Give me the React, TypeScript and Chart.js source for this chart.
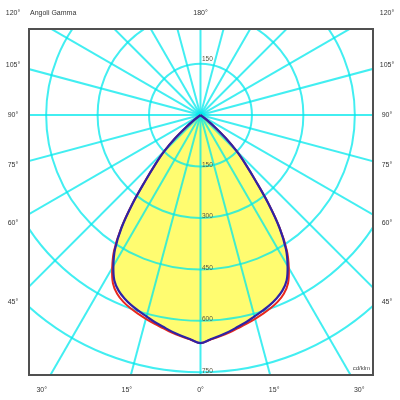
import React, { useEffect, useRef } from "react";
import { Chart, registerables } from "chart.js";

Chart.register(...registerables);

// Gamma angles (degrees from nadir) and luminous intensity (cd/klm)
const gammaAngles = [0, 2.5, 5, 7.5, 10, 12.5, 15, 17.5, 20, 22.5, 25, 27.5, 30, 32.5, 35, 37.5, 40, 42.5, 45, 47.5, 50, 52.5, 55];
const intensityC90 = [665, 655, 646, 637, 627, 618, 608, 599, 590, 579, 565, 544, 508, 464, 402, 325, 250, 195, 150, 102, 55, 22, 0];
const intensityC0 = [665, 656, 648, 640, 631, 623, 615, 607, 599, 589, 575, 553, 515, 469, 404, 326, 250, 195, 150, 102, 55, 22, 0];

// Grid
const circleValues = [150, 300, 450, 600, 750];
const rayAngles = [0, 15, 30, 45, 60, 75, 90, 105, 120, 135, 150, 165, 180, 195, 210, 225, 240, 255, 270, 285, 300, 315, 330, 345];
const sideLabelAngles = [15, 30, 45, 60, 75, 90, 105, 120];
const titleText = "Angoli Gamma";
const unitText = "cd/klm";

const FONT = "'Liberation Sans', Arial, Helvetica, sans-serif";
const BLUE = "#2e23a6";
const RED = "#e8281e";
const FILL = "rgb(255,252,112)";
const GRID = "rgba(0,232,236,0.74)";

const rad = (d: number) => (d * Math.PI) / 180;

function toPoints(values: number[]) {
  const right = gammaAngles
    .map((g, i) => ({ x: values[i] * Math.sin(rad(g)), y: -values[i] * Math.cos(rad(g)) }))
    .reverse();
  const left = gammaAngles
    .slice(1)
    .map((g, i) => ({ x: -values[i + 1] * Math.sin(rad(g)), y: -values[i + 1] * Math.cos(rad(g)) }));
  return [...right, ...left];
}

const polarPlugin = {
  id: "polarGrid",
  beforeDatasetsDraw(chart: any) {
    const { ctx, chartArea: a, scales } = chart;
    const xs = scales.x;
    const ys = scales.y;
    const cx = xs.getPixelForValue(0);
    const cy = ys.getPixelForValue(0);
    const ppu = xs.getPixelForValue(100) - cx;
    ctx.save();
    ctx.beginPath();
    ctx.rect(a.left, a.top, a.right - a.left, a.bottom - a.top);
    ctx.clip();

    // yellow fill of the photometric curve
    const meta = chart.getDatasetMeta(0);
    ctx.beginPath();
    let ok = false;
    try {
      if (meta.dataset && typeof meta.dataset.path === "function") {
        meta.dataset.path(ctx);
        ok = true;
      }
    } catch (e) {
      ok = false;
    }
    if (!ok) {
      ctx.beginPath();
      meta.data.forEach((p: any, i: number) => (i === 0 ? ctx.moveTo(p.x, p.y) : ctx.lineTo(p.x, p.y)));
    }
    ctx.closePath();
    ctx.fillStyle = FILL;
    ctx.fill();

    // polar grid
    ctx.strokeStyle = GRID;
    ctx.lineWidth = 2;
    circleValues.forEach((v) => {
      ctx.beginPath();
      ctx.arc(cx, cy, (v * ppu) / 100, 0, Math.PI * 2);
      ctx.stroke();
    });
    const L = 2000;
    rayAngles.forEach((g) => {
      ctx.beginPath();
      ctx.moveTo(cx, cy);
      ctx.lineTo(cx + Math.sin(rad(g)) * L, cy + Math.cos(rad(g)) * L);
      ctx.stroke();
    });
    ctx.restore();
  },
  afterDraw(chart: any) {
    const { ctx, chartArea: a, scales } = chart;
    const xs = scales.x;
    const ys = scales.y;
    const cx = xs.getPixelForValue(0);
    const cy = ys.getPixelForValue(0);
    const ppu = xs.getPixelForValue(100) - cx;
    ctx.save();

    // frame
    ctx.strokeStyle = "#505050";
    ctx.lineWidth = 2;
    ctx.strokeRect(a.left, a.top, a.right - a.left, a.bottom - a.top);

    // circle value labels
    ctx.fillStyle = "#5a5640";
    ctx.font = `6.5px ${FONT}`;
    ctx.textAlign = "left";
    ctx.textBaseline = "middle";
    ctx.fillText(String(circleValues[0]), cx + 1.5, cy - (circleValues[0] * ppu) / 100 - 4);
    circleValues.forEach((v) => {
      ctx.fillText(String(v), cx + 1.5, cy + (v * ppu) / 100 - 1.5);
    });

    // angle labels
    const outer = { l: a.left - 16, r: a.right + 14, t: a.top - 16, b: a.bottom + 15 };
    ctx.fillStyle = "#333";
    ctx.font = `7px ${FONT}`;
    ctx.textAlign = "center";
    ctx.textBaseline = "middle";
    const place = (g: number, side: number) => {
      const s = Math.sin(rad(g));
      const c = Math.cos(rad(g));
      let px: number;
      let py: number;
      if (g < 40) {
        const t = (outer.b - cy) / c;
        px = cx + side * s * t;
        py = outer.b;
      } else {
        const edge = side < 0 ? outer.l : outer.r;
        const t = Math.abs(edge - cx) / s;
        px = edge;
        py = Math.max(outer.t, cy + c * t);
      }
      ctx.fillText(`${g}°`, px, py);
    };
    ctx.fillText("0°", cx, outer.b);
    ctx.fillText("180°", cx, outer.t);
    sideLabelAngles.forEach((g) => {
      place(g, -1);
      place(g, 1);
    });

    // title and unit
    ctx.textAlign = "left";
    ctx.fillText(titleText, a.left + 1, outer.t);
    ctx.font = `6px ${FONT}`;
    ctx.textAlign = "right";
    ctx.fillStyle = "#444";
    ctx.fillText(unitText, a.right - 3, a.bottom - 7);
    ctx.restore();
  },
};

export default function App() {
  const ref = useRef<HTMLCanvasElement>(null);
  useEffect(() => {
    if (!ref.current) return;
    const chart = new Chart(ref.current, {
      type: "scatter",
      data: {
        datasets: [
          {
            label: "C90-C270",
            data: toPoints(intensityC90),
            showLine: true,
            borderColor: BLUE,
            borderWidth: 2.2,
            pointRadius: 0,
            tension: 0.35,
            fill: false,
          },
          {
            label: "C0-C180",
            data: toPoints(intensityC0),
            showLine: true,
            borderColor: RED,
            borderWidth: 2,
            pointRadius: 0,
            tension: 0.35,
            fill: false,
          },
        ],
      },
      options: {
        animation: false,
        responsive: false,
        devicePixelRatio: 1,
        layout: { padding: { left: 29, top: 29, right: 27, bottom: 25 } },
        scales: {
          x: { type: "linear", min: -500, max: 503, display: false },
          y: { type: "linear", min: -758, max: 251, display: false },
        },
        plugins: { legend: { display: false }, tooltip: { enabled: false } },
      },
      plugins: [polarPlugin],
    } as any);
    return () => chart.destroy();
  }, []);
  return (
    <div style={{ position: "fixed", left: 0, top: 0, width: 400, height: 400, background: "#fff" }}>
      <canvas ref={ref} width={400} height={400} style={{ display: "block" }} />
    </div>
  );
}
